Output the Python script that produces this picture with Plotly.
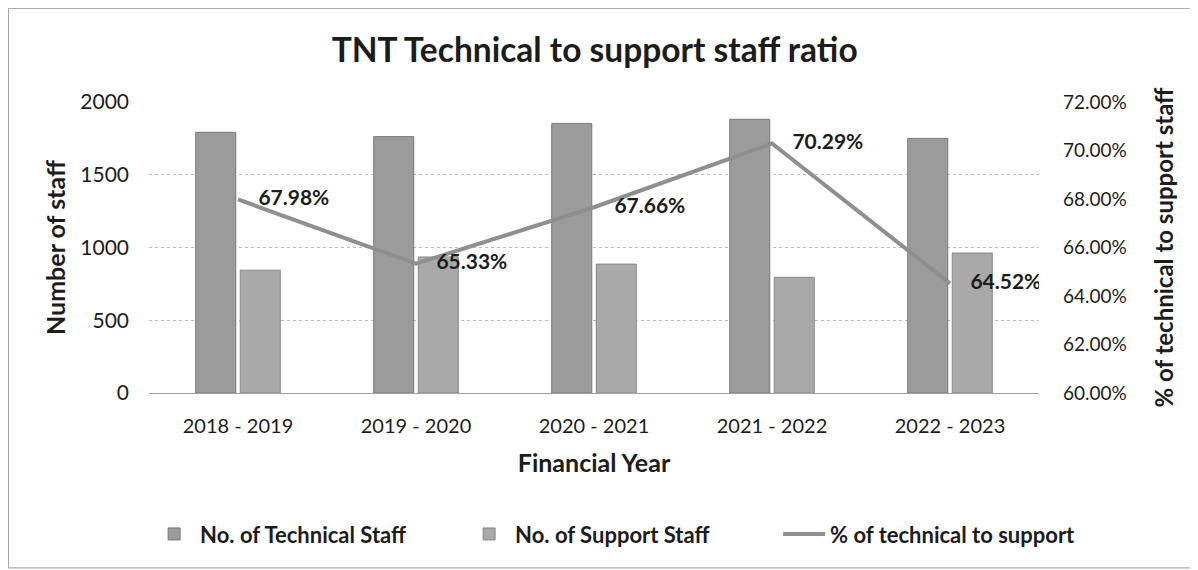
import plotly.graph_objects as go

years = ["2018 - 2019", "2019 - 2020", "2020 - 2021", "2021 - 2022", "2022 - 2023"]
technical = [1792, 1762, 1853, 1881, 1750]
support = [844, 935, 886, 795, 962]
pct = [67.98, 65.33, 67.66, 70.29, 64.52]
pct_labels = ["67.98%", "65.33%", "67.66%", "70.29%", "64.52%"]
left_ticks = [0, 500, 1000, 1500, 2000]
right_ticks = [60, 62, 64, 66, 68, 70, 72]
right_tick_labels = ["60.00%", "62.00%", "64.00%", "66.00%", "68.00%", "70.00%", "72.00%"]

FONT = "Lato"
INK = "#1c1c1c"

fig = go.Figure()
fig.add_trace(go.Bar(x=years, y=technical, name="No. of Technical Staff",
                     marker=dict(color="#9b9b9b", line=dict(color="#7a7a7a", width=1))))
fig.add_trace(go.Bar(x=years, y=support, name="No. of Support Staff",
                     marker=dict(color="#a9a9a9", line=dict(color="#888888", width=1))))
fig.add_trace(go.Scatter(x=years, y=pct, name="% of technical to support", yaxis="y2",
                         mode="lines+text", line=dict(color="#8f8f8f", width=4),
                         text=["    " + t for t in pct_labels], textposition="middle right",
                         textfont=dict(family=FONT, size=21, color=INK, weight="bold")))

fig.update_layout(
    width=1190, height=562,
    paper_bgcolor="white", plot_bgcolor="white",
    margin=dict(l=141, r=159, t=94, b=177, autoexpand=False),
    font=dict(family=FONT, color=INK),
    title=dict(text="<b>TNT Technical to support staff ratio</b>", x=0.493, xanchor="center",
               y=0.925, yanchor="middle", font=dict(size=33.5, color=INK, family=FONT)),
    barmode="group", bargap=0.5, bargroupgap=0.1,
    xaxis=dict(title=dict(text="<b>Financial Year</b>", font=dict(size=25, color=INK), standoff=18),
               tickfont=dict(size=20, color=INK), showline=False, ticks="",
               showgrid=False, automargin=False, ticklabelstandoff=19),
    yaxis=dict(title=dict(text="<b>Number of staff</b>", font=dict(size=25, color=INK), standoff=7),
               range=[0, 2000], tickvals=left_ticks, tickfont=dict(size=21, color=INK),
               gridcolor="#bdbdbd", gridwidth=1, griddash="dot", zeroline=True,
               zerolinecolor="#a0a0a0", zerolinewidth=1, ticks="", ticklabelstandoff=19,
               automargin=False),
    yaxis2=dict(title=dict(text="<b>% of technical to support staff</b>", font=dict(size=24, color=INK), standoff=30),
                overlaying="y", side="right", range=[60, 72],
                tickvals=right_ticks, ticktext=right_tick_labels,
                tickfont=dict(size=19, color=INK), showgrid=False, zeroline=False,
                ticks="", ticklabelstandoff=23, automargin=False),
    legend=dict(orientation="h", x=-0.001, xanchor="left", y=-0.485, yanchor="middle",
                font=dict(size=22, color=INK, weight="bold"), itemwidth=42,
                traceorder="normal", entrywidthmode="pixels", entrywidth=258),
    shapes=[dict(type="rect", xref="paper", yref="paper", x0=-0.158, x1=1.171, y0=-0.601, y1=1.322,
                 line=dict(color="#9a9a9a", width=1))],
)

fig.write_html("out.html")
